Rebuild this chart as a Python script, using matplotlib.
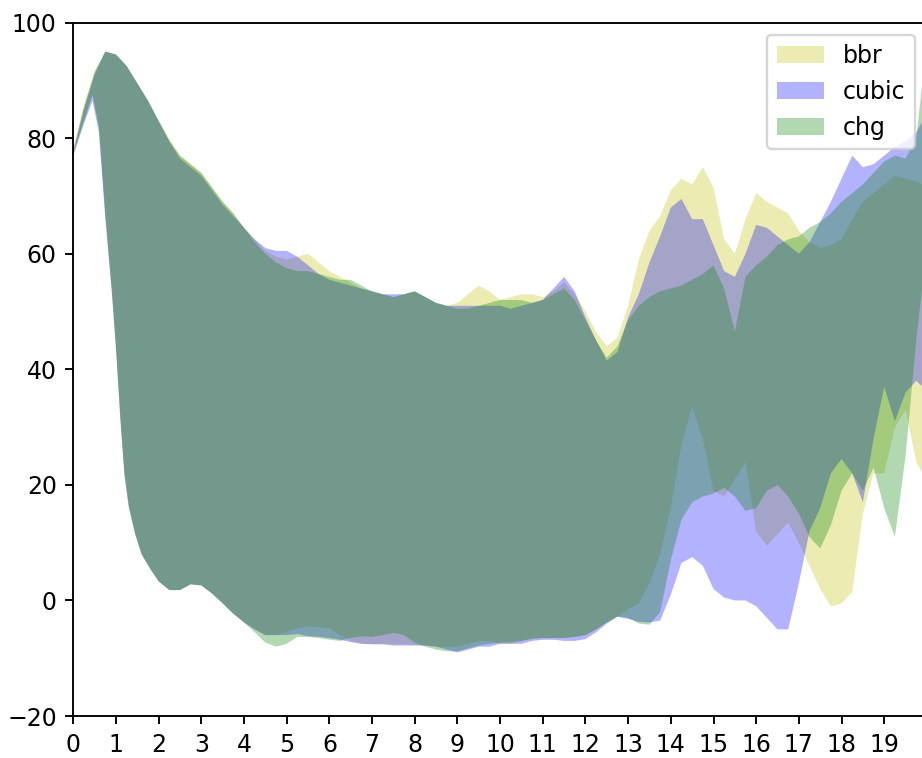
import numpy as np
import matplotlib
matplotlib.use("Agg")
import matplotlib.pyplot as plt

# sample positions (seconds)
x_up = np.append(np.arange(0, 20, 0.25), 19.9)
x_low = np.concatenate([[0, 0.25, 0.45, 0.6, 0.75, 0.9, 1.0, 1.1, 1.2, 1.3, 1.45, 1.6, 1.8],
                        np.arange(2, 20, 0.25), [19.9]])

# upper edge of each band
bbr_up = [78, 85.5, 91.5, 95, 94.5, 92.5, 89.5, 86.5, 83, 80,
          77, 75.5, 74, 71.5, 69, 67, 64.5, 62.5, 60.5, 59.5,
          59, 59.5, 60, 58.5, 57, 56, 55, 54, 53.5, 53,
          52.5, 53, 53.5, 52.5, 51.5, 51, 51.5, 53, 54.5, 53.5,
          52, 52.5, 53, 53, 52.5, 53.5, 55, 53, 50, 46.5,
          44, 45.5, 51, 59, 64, 66.5, 71, 73, 72, 75,
          71.5, 62.5, 60, 66, 70.5, 69, 68, 67, 64, 62,
          61, 61.5, 62.5, 66, 69, 70.5, 72, 73.5, 73, 72.5,
          72]
cubic_up = [77.5, 85, 91, 95, 94.5, 92.5, 89.5, 86.5, 83, 79.5,
            76.5, 75, 73.5, 71, 68.5, 66.5, 64.5, 62.5, 61, 60.5,
            60.5, 59.5, 58, 56.5, 55.5, 55, 54.5, 54, 53.5, 53,
            53, 53, 53.5, 52.5, 51.5, 51, 51, 51, 51, 51,
            51, 50.5, 51, 51.5, 52, 54, 56, 53.5, 49, 45,
            41.5, 43, 49, 53, 58.5, 63, 68, 69.5, 66, 66,
            61.5, 57, 56, 60, 65, 64.5, 63, 61.5, 60, 62,
            65.5, 69, 73, 77, 75, 75.5, 77, 78.5, 79.5, 81,
            83]
chg_up = [78, 85.5, 91.5, 95, 94.5, 92.5, 89.5, 86.5, 83, 79.5,
          77, 75.5, 74, 71.5, 69, 67, 64.5, 62, 60, 58.5,
          57.5, 57, 57, 56.5, 56, 55.5, 55.5, 54.5, 53.5, 53,
          52.5, 53, 53.5, 52.5, 51.5, 51, 50.5, 50.5, 51, 51.5,
          52, 52, 52, 51.5, 52, 53, 54, 52, 48.5, 45,
          42, 44, 48.5, 51, 52.5, 53.5, 54, 54.5, 55.5, 56.5,
          58, 54, 46.5, 56, 58, 59.5, 61.5, 62.5, 63, 64.5,
          65.5, 67, 69, 70.5, 72, 74, 76, 77, 76.5, 80,
          90]

# lower edge of each band
bbr_low = [77, 83, 87.5, 82, 67, 54, 44, 32, 22, 16.5, 11.5, 8, 5.5,
           3.3, 1.8, 1.8, 2.8, 2.6, 1.2, -0.5, -2.3,
           -3.8, -5, -6, -6, -5.5, -4.8, -4.5, -4.6,
           -4.8, -6, -7, -7.5, -7.5, -7.5, -7.6, -7.6,
           -7.7, -7.8, -8, -8, -8, -7.5, -7, -7,
           -7.5, -7.5, -7, -6.5, -6.5, -6.5, -6.5, -6.3,
           -6, -5, -3.8, -2.8, -1.5, -0.5, 3, 8,
           16, 27, 33.5, 28, 19, 18, 21, 24,
           12, 9.5, 11.5, 13.5, 10, 6, 2, -1,
           -0.5, 1.5, 15, 22, 22, 30, 33, 24,
           22]
cubic_low = [77, 82.5, 86.5, 81, 66, 53.5, 43.5, 31.5, 21.5, 16, 11.5, 8, 5.5,
             3.3, 1.8, 1.8, 2.8, 2.6, 1.2, -0.5, -2.3,
             -3.8, -5, -6, -6, -6, -5.8, -6.2, -6.3,
             -6.5, -6.8, -7.2, -7.5, -7.6, -7.6, -7.8, -7.8,
             -7.8, -7.8, -8, -8.5, -9, -8.5, -8, -8,
             -7.5, -7.5, -7.5, -7, -6.8, -6.8, -7, -7,
             -6.7, -5.5, -4, -2.8, -3.2, -3.7, -3.8, -3.5,
             1, 6.5, 7.5, 6, 2, 0.5, 0, 0,
             -1, -3, -5, -5, 3, 12, 16, 22,
             24.5, 22, 17, 28, 37, 31, 36, 38,
             37]
chg_low = [77.5, 83, 87.5, 82, 67, 54, 44, 32, 22, 16.5, 11.5, 8, 5.5,
           3.3, 1.8, 1.8, 2.8, 2.6, 1.2, -0.5, -2.3,
           -3.8, -5.5, -7.3, -8, -7.5, -6.3, -6.3, -6.5,
           -6.8, -7, -6.5, -6.2, -6.3, -6, -5.6, -6,
           -7.3, -8, -8.5, -8.8, -8.8, -8.3, -7.8, -7.5,
           -7.3, -7.2, -7, -6.7, -6.5, -6.5, -6.5, -6.3,
           -6, -5, -3.8, -2.8, -3, -4, -4.2, -2,
           7, 14, 17, 18, 18.5, 19.5, 18, 15.5,
           16, 19, 20, 18, 15, 11, 9, 13,
           19, 22, 19, 23, 16, 11, 25, 45,
           55]

series = [("bbr", "y", bbr_up, bbr_low),
          ("cubic", "b", cubic_up, cubic_low),
          ("chg", "g", chg_up, chg_low)]

dpi = 170
fig = plt.figure(figsize=(922 / dpi, 758 / dpi), dpi=dpi)
# the axes run a little past the right edge of the canvas
ax = fig.add_axes([73.3 / 922, 42 / 758, 853.6 / 922, 693.3 / 758])

for name, color, up, low in series:
    xs = np.concatenate([x_up, np.asarray(x_low)[::-1]])
    ys = np.concatenate([np.asarray(up, float), np.asarray(low, float)[::-1]])
    ax.fill(xs, ys, color=color, alpha=0.3, linewidth=0, label=name)

ax.set_xlim(0, 20)
ax.set_ylim(-20, 100)
ax.set_xticks(range(20))
ax.legend(loc="upper right")

fig.savefig("out.png", dpi=dpi)
